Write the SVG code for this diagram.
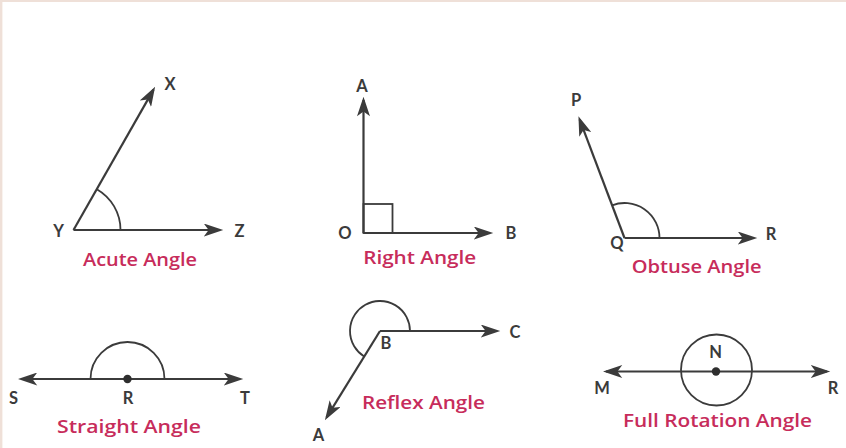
<svg xmlns="http://www.w3.org/2000/svg" width="846" height="448" viewBox="0 0 846 448">
<defs>
<marker id="ah" markerUnits="userSpaceOnUse" markerWidth="20" markerHeight="13" refX="15" refY="6" orient="auto-start-reverse" viewBox="0 0 18 12">
<path d="M0,0 L18,6 L0,12 L4.5,6 Z" fill="#3b3b3b"/>
</marker>
<style>
.ln{stroke:#3b3b3b;stroke-width:2.2;fill:none}
.arc{stroke:#3b3b3b;stroke-width:1.8;fill:none}
.ar{marker-end:url(#ah)}
.ar2{marker-start:url(#ah);marker-end:url(#ah)}
.pt{font-family:"Lato","Liberation Sans",sans-serif;font-weight:700;font-size:16.5px;fill:#3b3b3b;text-anchor:middle}
.lb{font-family:"Open Sans","Liberation Sans",sans-serif;font-weight:600;font-size:18px;fill:#c72c5b;text-anchor:middle}
</style>
</defs>
<rect x="0" y="0" width="846" height="448" fill="#ffffff"/>
<rect x="0" y="0" width="846" height="2" fill="#efe0d8"/>
<rect x="0" y="0" width="2.4" height="448" fill="#efe0d8"/>

<g id="connectors">
<line class="ln ar" x1="73.5" y1="230" x2="220" y2="230"/>
<line class="ln ar" x1="73.5" y1="230" x2="153.5" y2="89.6"/>
<line class="ln ar" x1="363.5" y1="233" x2="490" y2="233"/>
<line class="ln ar" x1="363.5" y1="233" x2="363.5" y2="100"/>
<line class="ln ar" x1="624.5" y1="238" x2="754" y2="238"/>
<line class="ln ar" x1="624.5" y1="238" x2="579.6" y2="119.3"/>
<line class="ln ar2" x1="21" y1="379" x2="240" y2="379"/>
<line class="ln ar" x1="380" y1="331" x2="497" y2="331"/>
<line class="ln ar" x1="380" y1="331" x2="326.6" y2="417.4"/>
<line class="ln ar2" x1="606" y1="371.5" x2="827" y2="371.5"/>
</g>

<g id="acute">
<path class="arc" d="M120.5,230 A47,47 0 0 0 96.8,189.2"/>
<text class="pt" x="170" y="89.5">X</text>
<text class="pt" x="58.5" y="236.5">Y</text>
<text class="pt" x="239.5" y="236.5">Z</text>
<text class="lb" x="140" y="266" textLength="114" lengthAdjust="spacingAndGlyphs">Acute Angle</text>
</g>

<g id="right">
<rect class="arc" x="363.5" y="204" width="29" height="29"/>
<text class="pt" x="362" y="92">A</text>
<text class="pt" x="345" y="239">O</text>
<text class="pt" x="511" y="239">B</text>
<text class="lb" x="419.7" y="264" textLength="113" lengthAdjust="spacingAndGlyphs">Right Angle</text>
</g>

<g id="obtuse">
<path class="arc" d="M659.5,238 A35,35 0 0 0 612.1,205.3"/>
<text class="pt" x="576" y="106">P</text>
<text class="pt" x="617" y="249">Q</text>
<text class="pt" x="771" y="240">R</text>
<text class="lb" x="696.7" y="273" textLength="130" lengthAdjust="spacingAndGlyphs">Obtuse Angle</text>
</g>

<g id="straight">
<path class="arc" d="M90.5,379 A37,37 0 0 1 164.5,379"/>
<circle cx="127.5" cy="379" r="4.2" fill="#2e2e2e"/>
<text class="pt" x="13.5" y="403.5">S</text>
<text class="pt" x="128" y="403.5">R</text>
<text class="pt" x="245" y="403.5">T</text>
<text class="lb" x="129" y="433" textLength="144" lengthAdjust="spacingAndGlyphs">Straight Angle</text>
</g>

<g id="reflex">
<path class="arc" d="M410,331 A30,30 0 1 0 364.2,356.5"/>
<text class="pt" x="386" y="349">B</text>
<text class="pt" x="515" y="337.5">C</text>
<text class="pt" x="318.5" y="441">A</text>
<text class="lb" x="423.5" y="409" textLength="123" lengthAdjust="spacingAndGlyphs">Reflex Angle</text>
</g>

<g id="full">
<circle class="arc" cx="716.5" cy="370" r="35.5"/>
<circle cx="716" cy="371.5" r="4.2" fill="#2e2e2e"/>
<text class="pt" x="715.5" y="357.5">N</text>
<text class="pt" x="602" y="394">M</text>
<text class="pt" x="833" y="394">R</text>
<text class="lb" x="717.5" y="426.5" textLength="189" lengthAdjust="spacingAndGlyphs">Full Rotation Angle</text>
</g>
</svg>
